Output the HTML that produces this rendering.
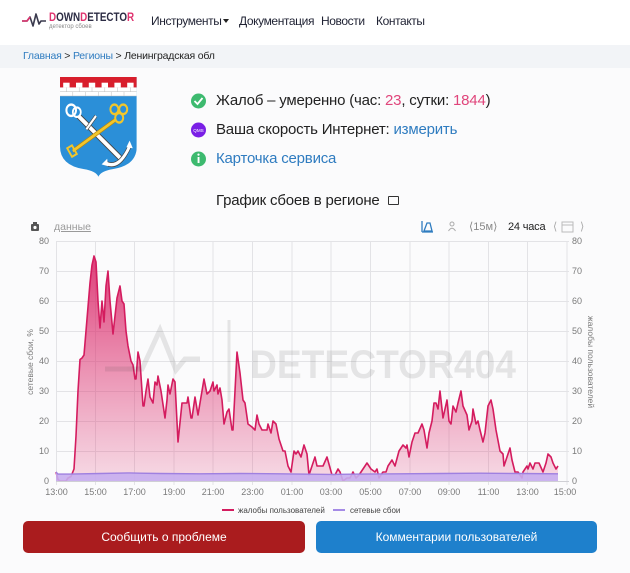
<!DOCTYPE html>
<html><head><meta charset="utf-8">
<style>
*{margin:0;padding:0;box-sizing:border-box}
body{width:630px;height:573px;overflow:hidden;background:#fbfbfc;font-family:"Liberation Sans",sans-serif;position:relative;color:#222}
.a{position:absolute;white-space:nowrap}
.nav{font-size:12px;letter-spacing:-0.4px;color:#1f2233;top:14px;line-height:15px}
.st{font-size:15px;letter-spacing:-0.2px;line-height:18px;left:216px;color:#222}
.pk{color:#e0457b}
.bl{color:#2f7cc0}
.btn{position:absolute;top:521px;height:32px;border-radius:5px;color:#fff;font-size:12px;text-align:center;line-height:32px}
</style></head><body>

<div class="a" style="left:0;top:0;width:630px;height:45px;background:#fff"></div>
<div class="a" style="left:0;top:45px;width:630px;height:23px;background:#f2f4f7"></div>

<!-- logo text -->
<div class="a" style="left:49px;top:10px;font-size:12px;font-weight:bold;line-height:14px;transform:scaleX(0.82);transform-origin:left top;color:#2c2c44"><span style="color:#e0336f">D</span>OWN<span style="color:#e0336f">D</span>ETECTO<span style="color:#e0336f">R</span></div>
<div class="a" style="left:49px;top:24px;font-size:6px;line-height:7px;color:#888">детектор сбоев</div>

<!-- nav -->
<div class="a nav" style="left:151px">Инструменты</div>
<div class="a" style="left:223px;top:19px;width:0;height:0;border-left:3px solid transparent;border-right:3px solid transparent;border-top:4px solid #222"></div>
<div class="a nav" style="left:239px">Документация</div>
<div class="a nav" style="left:321px">Новости</div>
<div class="a nav" style="left:376px">Контакты</div>

<!-- breadcrumb -->
<div class="a" style="left:23px;top:50px;font-size:10.5px;line-height:13px;letter-spacing:-0.2px;color:#222"><span class="bl">Главная</span> &gt; <span class="bl">Регионы</span> &gt; Ленинградская обл</div>

<!-- status lines -->
<div class="a st" style="top:92px">Жалоб – умеренно (час: <span class="pk">23</span>, сутки: <span class="pk">1844</span>)</div>
<div class="a st" style="top:121px">Ваша скорость Интернет: <span class="bl">измерить</span></div>
<div class="a st bl" style="top:150px">Карточка сервиса</div>

<div class="a" style="left:216px;top:192px;font-size:15px;line-height:18px;letter-spacing:-0.2px;color:#222">График сбоев в регионе</div>
<div class="a" style="left:388px;top:196px;width:11px;height:9px;border:1.5px solid #333;border-radius:1px"></div>

<!-- toolbar -->
<div class="a" style="left:54px;top:221px;font-size:10.5px;line-height:13px;color:#9a9a9a;text-decoration:underline">данные</div>
<div class="a" style="left:469px;top:220px;font-size:11px;line-height:14px;color:#888">⟨15м⟩</div>
<div class="a" style="left:508px;top:220px;font-size:11px;line-height:14px;color:#222;letter-spacing:-0.2px">24 часа</div>
<div class="a" style="left:553px;top:220px;font-size:11px;line-height:14px;color:#aaa">⟨</div>
<div class="a" style="left:580px;top:220px;font-size:11px;line-height:14px;color:#aaa">⟩</div>

<svg class="a" style="left:0;top:0" width="630" height="573" viewBox="0 0 630 573">
  <defs>
    <linearGradient id="pg" gradientUnits="userSpaceOnUse" x1="0" y1="80" x2="0" y2="0">
      <stop offset="0" stop-color="#d81b60" stop-opacity="0.9"/>
      <stop offset="1" stop-color="#e0407a" stop-opacity="0.18"/>
    </linearGradient>
    <clipPath id="sh"><path d="M59,77 H155 V150 Q155,170 125,174 Q110,176 107,182 Q104,176 89,174 Q59,170 59,150 Z"/></clipPath>
  </defs>

  <!-- header heartbeat logo -->
  <polyline points="22,21 27,21 30,17 33,26 36,14 39,24 41,21 46,21" fill="none" stroke="#3a3a4e" stroke-width="1.6" stroke-linejoin="round"/>
  <polyline points="22,21 27,21 30,17" fill="none" stroke="#e0336f" stroke-width="1.6"/>

  <!-- coat of arms -->
  <g transform="translate(60,77) scale(0.8,0.95) translate(-59,-77)">
  <g clip-path="url(#sh)">
    <rect x="59" y="77" width="96" height="106" fill="#2b8fd8"/>
    <rect x="59" y="77" width="96" height="11" fill="#d81e2c"/>
    <rect x="59" y="88" width="96" height="9" fill="#fff"/>
    <g fill="#fff">
      <rect x="63" y="83" width="8" height="5"/><rect x="79" y="83" width="8" height="5"/>
      <rect x="95" y="83" width="8" height="5"/><rect x="111" y="83" width="8" height="5"/>
      <rect x="127" y="83" width="8" height="5"/><rect x="143" y="83" width="8" height="5"/>
    </g>
    <g stroke="#bbb" stroke-width="0.6">
      <line x1="59" y1="92.5" x2="155" y2="92.5"/>
      <line x1="59" y1="97" x2="155" y2="97"/>
      <line x1="67" y1="88" x2="67" y2="92.5"/><line x1="83" y1="88" x2="83" y2="92.5"/>
      <line x1="99" y1="88" x2="99" y2="92.5"/><line x1="115" y1="88" x2="115" y2="92.5"/>
      <line x1="131" y1="88" x2="131" y2="92.5"/><line x1="147" y1="88" x2="147" y2="92.5"/>
      <line x1="75" y1="92.5" x2="75" y2="97"/><line x1="91" y1="92.5" x2="91" y2="97"/>
      <line x1="107" y1="92.5" x2="107" y2="97"/><line x1="123" y1="92.5" x2="123" y2="97"/>
      <line x1="139" y1="92.5" x2="139" y2="97"/>
    </g>
    <!-- anchor -->
    <line x1="82" y1="118" x2="134" y2="162" stroke="#444" stroke-width="6.5"/>
    <line x1="82" y1="118" x2="134" y2="162" stroke="#fff" stroke-width="4.5"/>
    <line x1="92" y1="132" x2="104" y2="118" stroke="#444" stroke-width="4"/>
    <line x1="92" y1="132" x2="104" y2="118" stroke="#fff" stroke-width="2.5"/>
    <circle cx="73" cy="112" r="6" fill="none" stroke="#fff" stroke-width="2.5"/>
    <circle cx="80" cy="114" r="5" fill="none" stroke="#fff" stroke-width="2.2"/>
    <path d="M115,167 Q132,176 146,150" fill="none" stroke="#444" stroke-width="5"/>
    <path d="M115,167 Q132,176 146,150" fill="none" stroke="#fff" stroke-width="3.5"/>
    <path d="M111,169 L118,163 L119,171 Z" fill="#fff"/>
    <path d="M146,144 L150,152 L142,151 Z" fill="#fff"/>
    <!-- key -->
    <line x1="75" y1="155" x2="130" y2="121" stroke="#b8860b" stroke-width="4.5"/>
    <line x1="75" y1="155" x2="130" y2="121" stroke="#f2c62b" stroke-width="3"/>
    <circle cx="127" cy="111" r="5" fill="#2b8fd8" stroke="#f2c62b" stroke-width="2.5"/>
    <circle cx="138" cy="111" r="5" fill="#2b8fd8" stroke="#f2c62b" stroke-width="2.5"/>
    <circle cx="133" cy="120" r="5" fill="#2b8fd8" stroke="#f2c62b" stroke-width="2.5"/>
    <path d="M68,152 L74,149 L80,158 L74,161 Z" fill="none" stroke="#f2c62b" stroke-width="2.2"/>
  </g>
  </g>

  <!-- status icons -->
  <circle cx="198.5" cy="101" r="7.5" fill="#3dba6f"/>
  <polyline points="194.5,101 197.5,104 202.5,98" fill="none" stroke="#fff" stroke-width="1.8"/>
  <circle cx="198.5" cy="130" r="7.5" fill="#7a1fe6"/>
  <text x="198.5" y="132" font-size="4.6" fill="#fff" text-anchor="middle" font-family="Liberation Sans">QMS</text>
  <circle cx="198.5" cy="159" r="7.5" fill="#3dba6f"/>
  <rect x="197.6" y="157" width="1.9" height="6" fill="#fff"/>
  <circle cx="198.5" cy="154.6" r="1.1" fill="#fff"/>

  <!-- toolbar icons -->
  <rect x="31" y="224" width="8" height="7" fill="#555" rx="1"/>
  <rect x="33" y="222" width="4" height="2" fill="#555"/>
  <circle cx="35" cy="227.5" r="1.6" fill="#fff"/>
  <path d="M422,232 V221 M422,232 H433 M424,231 L427,223 L430,223 L432,231 Z" fill="none" stroke="#2f7cc0" stroke-width="1.3"/>
  <circle cx="452" cy="224" r="2" fill="none" stroke="#aaa" stroke-width="1"/>
  <path d="M448.5,231 Q452,225.5 455.5,231" fill="none" stroke="#aaa" stroke-width="1"/>
  <rect x="562" y="222" width="11" height="10" fill="none" stroke="#bbb" stroke-width="1"/>
  <line x1="562" y1="225" x2="573" y2="225" stroke="#bbb"/>

  <!-- grid -->
  <g stroke="#e3e3e6" stroke-width="1">
    <line x1="56" y1="241.5" x2="569" y2="241.5"/><line x1="56" y1="271.5" x2="569" y2="271.5"/>
    <line x1="56" y1="301.5" x2="569" y2="301.5"/><line x1="56" y1="331.5" x2="569" y2="331.5"/>
    <line x1="56" y1="361.5" x2="569" y2="361.5"/><line x1="56" y1="391.5" x2="569" y2="391.5"/>
    <line x1="56" y1="421.5" x2="569" y2="421.5"/><line x1="56" y1="451.5" x2="569" y2="451.5"/>
    <line x1="56.5" y1="241" x2="56.5" y2="485"/><line x1="95.5" y1="241" x2="95.5" y2="485"/>
    <line x1="134.5" y1="241" x2="134.5" y2="485"/><line x1="174" y1="241" x2="174" y2="485"/>
    <line x1="213" y1="241" x2="213" y2="485"/><line x1="252.5" y1="241" x2="252.5" y2="485"/>
    <line x1="292" y1="241" x2="292" y2="485"/><line x1="331" y1="241" x2="331" y2="485"/>
    <line x1="370.5" y1="241" x2="370.5" y2="485"/><line x1="410" y1="241" x2="410" y2="485"/>
    <line x1="449" y1="241" x2="449" y2="485"/><line x1="488.5" y1="241" x2="488.5" y2="485"/>
    <line x1="527.5" y1="241" x2="527.5" y2="485"/><line x1="567" y1="241" x2="567" y2="485"/>
  </g>

  <!-- complaints series -->
  <g transform="translate(0,481) scale(1,-3)">
    <path fill="url(#pg)" d="M56,0 L56,3 58,0.5 60,0 66,0 68,1 71,1.5 74,4 76,15 78,30 80,40.5 82,41 84,42 86,50 88,58 90,66 92,72 94,75 96,73 98,60 100,51 102,60 104,53 106,65 108,70 110,60 113,49 115,55 117,61 120,65 122,60 124,59 126,50 128,45 131,40 133,38.7 135,34 136,34 138,43 140,40 143,25 144,25 146,30 148,34 150,28 153,26 155,33 157,32 158,35 161,30 165,21 167,27 168,32 170,29 173,34 175,33 178,13 182,26 187,26 188,28 191,21 192,21 195,28 198,22 202,30 204,34 207,29 210,30 213,33 214,30 217,32 218,29 220,31 222,27 224,19 227,23 229,24 232,17 233,17 235,30 237,43 240,36 243,27 245,26 248,19 252,18 255,17 257,22 259,19 262,17 267,17 268,19 271,16 273,20 276,19 279,14 283,10 285,10 288,5 291,3 294,10 296,9 298,10 301,8 304,12 307,9 309,2 313,6 315,8 317,5 320,5 323,5 327,8 332,2 335,2 338,4 340,3 343,0 347,1 350,1 353,3 356,1 359,2 363,4 367,6 371,4 375,3 377,4 379,1 383,3 386,3 388,5 392,7 395,5 399,10 403,12 406,11 407,12 409,8 412,13 415,16 418,16 422,19 424,17 427,11 429,16 432,20 434,26 436,26 438,24 440,30 443,21 447,27 449,20 451,19 453,25 456,23 458,26 461,30 463,25 467,22 469,17 472,20 473,24 476,19 478,20 480,17 483,13 485,16 488,25 491,27 493,24 496,17 500,10 503,9 504,5 507,8 510,11 512,7 515,3 518,3 522,1 523,3 527,5 528,4 530,6 533,4 535,6 539,6 543,3 546,6 548,9 551,8 553,6 556,4 558,5 L558,0 Z"/>
    <polyline fill="none" stroke="#d41c5f" stroke-width="1.6" vector-effect="non-scaling-stroke" stroke-linejoin="round" points="56,3 58,0.5 60,0 66,0 68,1 71,1.5 74,4 76,15 78,30 80,40.5 82,41 84,42 86,50 88,58 90,66 92,72 94,75 96,73 98,60 100,51 102,60 104,53 106,65 108,70 110,60 113,49 115,55 117,61 120,65 122,60 124,59 126,50 128,45 131,40 133,38.7 135,34 136,34 138,43 140,40 143,25 144,25 146,30 148,34 150,28 153,26 155,33 157,32 158,35 161,30 165,21 167,27 168,32 170,29 173,34 175,33 178,13 182,26 187,26 188,28 191,21 192,21 195,28 198,22 202,30 204,34 207,29 210,30 213,33 214,30 217,32 218,29 220,31 222,27 224,19 227,23 229,24 232,17 233,17 235,30 237,43 240,36 243,27 245,26 248,19 252,18 255,17 257,22 259,19 262,17 267,17 268,19 271,16 273,20 276,19 279,14 283,10 285,10 288,5 291,3 294,10 296,9 298,10 301,8 304,12 307,9 309,2 313,6 315,8 317,5 320,5 323,5 327,8 332,2 335,2 338,4 340,3 343,0 347,1 350,1 353,3 356,1 359,2 363,4 367,6 371,4 375,3 377,4 379,1 383,3 386,3 388,5 392,7 395,5 399,10 403,12 406,11 407,12 409,8 412,13 415,16 418,16 422,19 424,17 427,11 429,16 432,20 434,26 436,26 438,24 440,30 443,21 447,27 449,20 451,19 453,25 456,23 458,26 461,30 463,25 467,22 469,17 472,20 473,24 476,19 478,20 480,17 483,13 485,16 488,25 491,27 493,24 496,17 500,10 503,9 504,5 507,8 510,11 512,7 515,3 518,3 522,1 523,3 527,5 528,4 530,6 533,4 535,6 539,6 543,3 546,6 548,9 551,8 553,6 556,4 558,5"/>
    <!-- network outages -->
    <path fill="#c6aef0" fill-opacity="0.9" d="M56,0 L56,3 58,2.3 70,2.3 100,2.5 130,2.7 140,2.6 160,2.5 200,2.4 240,2.5 280,2.4 300,2.3 330,2.2 360,2.3 400,2.4 440,2.5 480,2.6 520,2.5 558,2.4 L558,0 Z"/>
    <polyline fill="none" stroke="#9f80e0" stroke-width="1.4" vector-effect="non-scaling-stroke" points="56,3 58,2.3 70,2.3 100,2.5 130,2.7 140,2.6 160,2.5 200,2.4 240,2.5 280,2.4 300,2.3 330,2.2 360,2.3 400,2.4 440,2.5 480,2.6 520,2.5 558,2.4"/>
  </g>
  <line x1="56" y1="481.5" x2="569" y2="481.5" stroke="#cfcfd4" stroke-width="1"/>

  <!-- watermark -->
  <g opacity="0.11">
    <polyline points="105,369 142,369 160,330 176,370 185,359 200,359" fill="none" stroke="#333" stroke-width="5" stroke-linejoin="miter"/>
    <line x1="229" y1="320" x2="229" y2="402" stroke="#333" stroke-width="3"/>
    <text x="250" y="378" font-size="40" font-weight="bold" fill="#333" textLength="266" lengthAdjust="spacingAndGlyphs" font-family="Liberation Sans">DETECTOR404</text>
  </g>

  <!-- axis labels -->
  <g font-family="Liberation Sans" font-size="9" fill="#7a7a7a">
    <g text-anchor="end">
      <text x="49" y="244">80</text><text x="49" y="274">70</text><text x="49" y="304">60</text>
      <text x="49" y="334">50</text><text x="49" y="364">40</text><text x="49" y="394">30</text>
      <text x="49" y="424">20</text><text x="49" y="454">10</text><text x="49" y="484">0</text>
    </g>
    <g>
      <text x="572" y="244">80</text><text x="572" y="274">70</text><text x="572" y="304">60</text>
      <text x="572" y="334">50</text><text x="572" y="364">40</text><text x="572" y="394">30</text>
      <text x="572" y="424">20</text><text x="572" y="454">10</text><text x="572" y="484">0</text>
    </g>
    <g text-anchor="middle">
      <text x="56.5" y="495">13:00</text><text x="95.5" y="495">15:00</text><text x="134.5" y="495">17:00</text>
      <text x="174" y="495">19:00</text><text x="213" y="495">21:00</text><text x="252.5" y="495">23:00</text>
      <text x="292" y="495">01:00</text><text x="331" y="495">03:00</text><text x="370.5" y="495">05:00</text>
      <text x="410" y="495">07:00</text><text x="449" y="495">09:00</text><text x="488.5" y="495">11:00</text>
      <text x="527.5" y="495">13:00</text><text x="565" y="495">15:00</text>
    </g>
    <text transform="translate(33,362) rotate(-90)" text-anchor="middle" font-size="8.5">сетевые сбои, %</text>
    <text transform="translate(588,362) rotate(90)" text-anchor="middle" font-size="8.5">жалобы пользователей</text>
  </g>

  <!-- legend -->
  <line x1="222" y1="510" x2="234" y2="510" stroke="#d41c5f" stroke-width="2"/>
  <text x="238" y="513" font-family="Liberation Sans" font-size="8" fill="#444">жалобы пользователей</text>
  <line x1="333" y1="510" x2="345" y2="510" stroke="#a58be6" stroke-width="2"/>
  <text x="350" y="513" font-family="Liberation Sans" font-size="8" fill="#444">сетевые сбои</text>
</svg>

<div class="btn" style="left:23px;width:282px;background:#aa1c1e">Сообщить о проблеме</div>
<div class="btn" style="left:316px;width:281px;background:#1e80cc">Комментарии пользователей</div>

</body></html>
